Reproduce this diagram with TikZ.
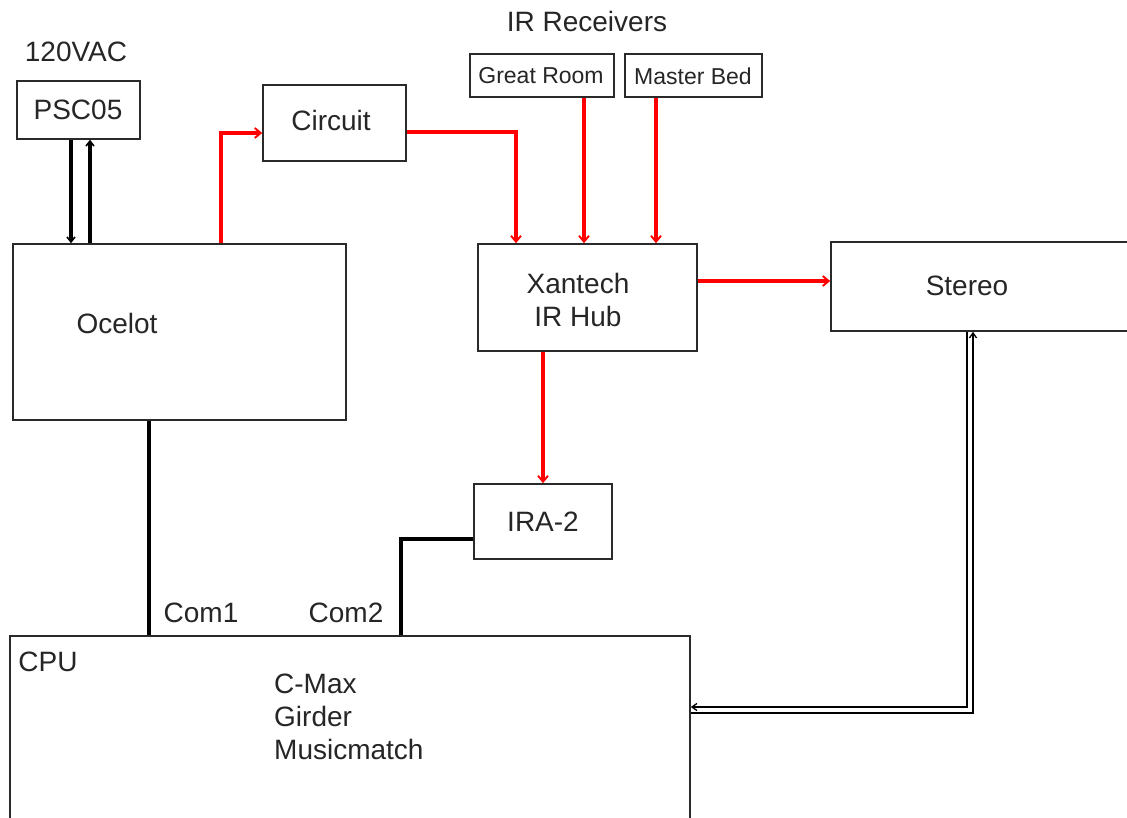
\documentclass[tikz,border=0pt]{standalone}
\usepackage{fontspec}
\setmainfont{Liberation Sans}
\usetikzlibrary{calc,arrows.meta}
\definecolor{boxc}{HTML}{2A2A2A}
\definecolor{redc}{HTML}{FF0000}
\tikzset{
  box/.style={draw=boxc, line width=1.6pt, rectangle, inner sep=0pt, anchor=center},
  txt/.style={inner sep=0pt, font=\fontsize{28}{33}\selectfont, text=black!85},
  smalltxt/.style={inner sep=0pt, font=\fontsize{23}{26}\selectfont, text=black!85},
  redarrow/.style={draw=redc, line width=3.3pt, -{Straight Barb[length=6pt,width=10pt,line width=1.9pt]}},
  blkarrow/.style={draw=black, line width=3.2pt, -{Straight Barb[length=5pt,width=8pt,line width=1.6pt]}},
  heavy/.style={draw=black, line width=4.6pt},
  thinarrow/.style={draw=black, line width=1.5pt, -{Straight Barb[length=5pt,width=7pt,line width=1.3pt]}}
}
\begin{document}
\begin{tikzpicture}[x=1pt,y=-1pt]
\clip (0,0) rectangle (1127,818);
\fill[white] (0,0) rectangle (1127,818);
% boxes
\node[box, minimum width=123pt, minimum height=58pt] (psc) at (78.5,110) {};
\node[box, minimum width=333pt, minimum height=176pt] (ocelot) at (179.5,332) {};
\node[box, minimum width=143pt, minimum height=76pt] (circuit) at (334.5,123) {};
\node[box, minimum width=144pt, minimum height=43pt] (great) at (542,75.5) {};
\node[box, minimum width=137pt, minimum height=43pt] (master) at (693.5,75.5) {};
\node[box, minimum width=219pt, minimum height=107pt] (xantech) at (587.5,297.5) {};
\node[box, minimum width=320pt, minimum height=89pt] (stereo) at (991,286.5) {};
\node[box, minimum width=138pt, minimum height=75pt] (ira) at (543,521.5) {};
\node[box, minimum width=680pt, minimum height=194pt] (cpu) at (350,733) {};
% texts
\node[txt] (t120) at (76,52) {120VAC};
\node[txt] (tpsc) at (78,110) {PSC05};
\node[txt] (toce) at (117,323) {Ocelot};
\node[txt] (tcir) at (331,120) {Circuit};
\node[txt] (tir) at (587,21) {IR Receivers};
\node[smalltxt] (tgr) at (541,76) {Great Room};
\node[smalltxt] (tmb) at (693,76) {Master Bed};
\node[txt, align=center] (txan) at (578,300) {Xantech\\IR Hub};
\node[txt] (tste) at (967,286) {Stereo};
\node[txt] (tira) at (543,522) {IRA-2};
\node[txt] (tc1) at (201,613) {Com1};
\node[txt] (tc2) at (346,613) {Com2};
\node[txt] (tcpu) at (48,662) {CPU};
\node[txt, align=left, anchor=north west] (tsw) at (274,674) {C-Max\\Girder\\Musicmatch};
% connector end points
\coordinate (pscd) at ($(psc.south)+(-7.5,0)$);
\coordinate (pscu) at ($(psc.south)+(11.5,0)$);
\coordinate (ocetop) at ($(ocelot.north)+(41.5,0)$);
\coordinate (cirin) at ($(circuit.west)+(0,10)$);
\coordinate (cirout) at ($(circuit.east)+(0,9)$);
\coordinate (xanin) at ($(xantech.north)+(-71.5,0)$);
\coordinate (grout) at ($(great.south)+(42,0)$);
\coordinate (mbout) at ($(master.south)+(-37.5,0)$);
\coordinate (xanout) at ($(xantech.east)+(0,-16.5)$);
\coordinate (xandown) at ($(xantech.south)+(-44.5,0)$);
\coordinate (ocebot) at ($(ocelot.south)+(-30.5,0)$);
\coordinate (iraout) at ($(ira.west)+(0,17.5)$);
\coordinate (com2) at ($(cpu.north)+(51,0)$);
\coordinate (stin) at ($(stereo.south)+(-24,0)$);
\coordinate (stout) at ($(stereo.south)+(-18,0)$);
\coordinate (cpuin) at ($(cpu.east)+(0,-26)$);
\coordinate (cpuout) at ($(cpu.east)+(0,-20)$);
% PSC05 <-> Ocelot
\draw[blkarrow] (pscd) -- (pscd |- ocelot.north);
\draw[blkarrow] (pscu |- ocelot.north) -- (pscu);
% red IR paths
\draw[redarrow] (ocetop) |- (cirin);
\draw[redarrow] (cirout) -| (xanin);
\draw[redarrow] (grout) -- (grout |- xantech.north);
\draw[redarrow] (mbout) -- (mbout |- xantech.north);
\draw[redarrow] (xanout) -- (xanout -| stereo.west);
\draw[redarrow] (xandown) -- (xandown |- ira.north);
% serial cables
\draw[heavy] (ocebot) -- (ocebot |- cpu.north);
\draw[heavy] (iraout) -| (com2);
% stereo <-> cpu
\draw[thinarrow] (stin) |- (cpuin);
\draw[thinarrow] (cpuout) -| (stout);
\end{tikzpicture}
\end{document}
